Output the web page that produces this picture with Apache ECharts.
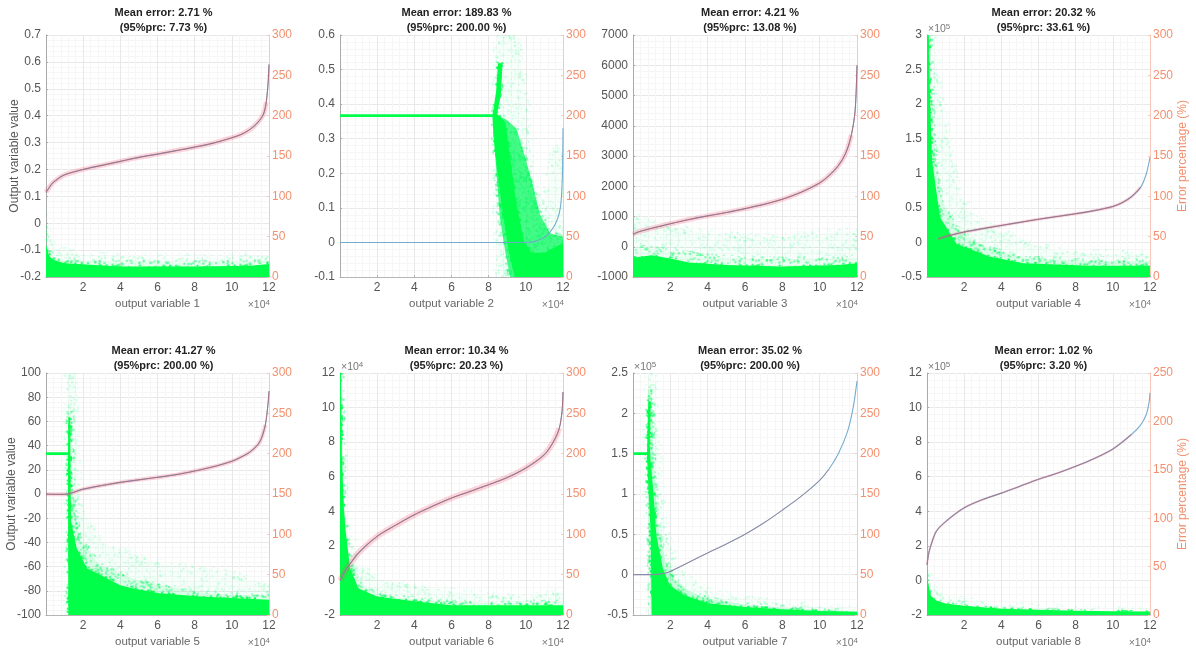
<!DOCTYPE html>
<html><head><meta charset="utf-8">
<style>html,body{margin:0;padding:0;background:#fff}#c{width:1196px;height:653px;filter:blur(0.35px)}</style>
<script src="https://cdn.jsdelivr.net/npm/echarts@6/dist/echarts.min.js"></script>
</head><body><div id="c"></div>
<script>
// Sorted true output value per variable: [x (×10^4 samples), value in left-axis units]
const curve1=[[0,0.115],[0.15,0.13],[0.3,0.145],[0.5,0.158],[1,0.18],[2,0.2],[3,0.215],[4,0.23],[5,0.245],[6,0.257],[7,0.27],[8,0.283],[9,0.298],[10,0.318],[10.5,0.33],[11,0.35],[11.4,0.375],[11.7,0.405],[11.85,0.45],[11.95,0.52],[12,0.59]];
const curve2=[[0,0],[5,0],[9,0],[10,0],[10.5,0.003],[11,0.015],[11.3,0.03],[11.6,0.055],[11.8,0.085],[11.9,0.12],[11.97,0.2],[12,0.33]];
const curve3=[[0,400],[0.2,470],[0.5,530],[1,610],[2,760],[3,900],[4,1020],[5,1130],[6,1260],[7,1400],[8,1570],[9,1800],[10,2110],[10.5,2350],[11,2680],[11.4,3100],[11.7,3700],[11.9,4500],[12,6000]];
const curve4=[[0.6,0.05],[1,0.085],[2,0.15],[3,0.2],[4,0.246],[5,0.29],[6,0.335],[7,0.375],[8,0.415],[9,0.46],[10,0.52],[10.5,0.575],[11,0.66],[11.5,0.8],[11.8,0.99],[12,1.23]];
const curve5=[[0,0],[0.5,-0.3],[1,-0.3],[1.3,0.5],[1.6,2],[2,4],[3,7],[4,9.6],[5,11.7],[6,13.8],[7,16],[8,19],[9,22.5],[10,27],[10.5,30.5],[11,35],[11.5,43],[11.8,57],[11.95,75],[12,85]];
const curve6=[[0,0],[0.25,0.5],[0.5,0.9],[1,1.6],[2,2.55],[3,3.2],[4,3.8],[5,4.3],[6,4.77],[7,5.15],[8,5.54],[9,5.95],[10,6.5],[11,7.28],[11.5,8.05],[11.8,8.8],[11.95,9.8],[12,10.9]];
const curve7=[[0,0],[1,0],[1.5,0.01],[1.9,0.03],[3,0.155],[4,0.27],[5,0.38],[6,0.5],[7,0.64],[8,0.8],[9,0.97],[10,1.17],[10.5,1.31],[11,1.5],[11.5,1.78],[11.8,2.08],[12,2.4]];
const curve8=[[0,0.9],[0.08,1.5],[0.2,2],[0.5,2.84],[1,3.4],[2,4.2],[3,4.68],[4,5.05],[5,5.45],[6,5.85],[7,6.2],[8,6.6],[9,7.05],[10,7.6],[11,8.44],[11.5,9],[11.8,9.6],[11.95,10.3],[12,10.85]];

// Error-percentage cloud outlines: [x, % on right axis]
const faint1=[[0,0],[0,70],[0.2,52],[0.5,36],[1,32],[2,27],[4,26],[6,24],[8,24],[10,25],[11,28],[12,26],[12,0]];
const mid1=[[0,0],[0,50],[0.2,30],[0.5,24],[1,21],[4,18],[8,18],[11,19],[12,20],[12,0]];
const dense1=[[0,0],[0,40],[0.15,28],[0.3,22],[1,17],[4,13],[8,13],[11,14],[12,16],[12,0]];
const faint2=[[8.5,0],[8.3,170],[8.45,300],[9.5,300],[10,230],[10.2,170],[10.5,115],[11,95],[11.3,130],[11.5,160],[12,160],[12,0]];
const mid2=[[9.15,0],[8.9,30],[8.6,74],[8.4,136],[8.25,178],[8.5,200],[8.9,196],[9.5,184],[10,145],[10.4,112],[10.75,78],[11.3,54],[12,50],[12,0]];
const dense2=[[9.4,0],[9.1,30],[8.75,80],[8.45,136],[8.25,178],[8.2,200],[8.4,230],[8.5,265],[8.75,265],[8.65,225],[8.45,202],[8.9,192],[9.2,140],[9.5,90],[9.9,45],[10.3,30],[11,30],[12,42],[12,0]];
const flat2=[[0,200],[8.4,200]];
const faint3=[[0,0],[0,75],[2,62],[4,54],[6,50],[8,50],[10,54],[12,58],[12,0]];
const mid3=[[0,0],[0,38],[2,33],[4,26],[6,23],[8,22],[10,23],[12,24],[12,0]];
const dense3=[[0,0],[0,24],[1,27],[2,23],[3,18],[5,15],[8,13],[11,15],[12,17],[12,0]];
const faint4=[[0,0],[0,300],[0.4,300],[0.7,225],[1.1,178],[1.6,112],[2.5,74],[3.4,62],[5.2,45],[7,33],[8.8,29],[10.6,29],[12,29],[12,0]];
const mid4=[[0,0],[0,300],[0.2,300],[0.35,170],[0.8,95],[1.6,62],[2.5,45],[3.4,35],[5.2,24],[8.8,20],[12,20],[12,0]];
const dense4=[[0,0],[0,300],[0.1,300],[0.15,230],[0.27,145],[0.7,74],[1.6,41],[3.4,25],[5.2,17],[8.8,14],[12,14],[12,0]];
const faint5=[[1.15,0],[1.15,300],[1.5,300],[1.6,230],[1.8,140],[2.9,91],[4.7,74],[6.5,62],[8.3,58],[10,50],[12,39],[12,0]];
const mid5=[[1.2,0],[1.2,250],[1.35,250],[1.45,150],[1.8,95],[2.9,62],[4.7,45],[6.5,36],[8.3,28],[10,25],[12,24],[12,0]];
const dense5=[[1.2,0],[1.18,200],[1.2,245],[1.3,245],[1.32,170],[1.35,115],[1.65,83],[2.2,58],[2.9,50],[4,37],[4.7,33],[6.1,27],[8.3,23],[10,21],[12,19],[12,0]];
const flat5=[[0,200],[1.2,200]];
const faint6=[[0,0],[0,300],[0.14,300],[0.25,155],[0.36,103],[0.7,91],[1,62],[2,45],[4,37],[6,29],[8,25],[10,21],[12,29],[12,0]];
const mid6=[[0,0],[0,300],[0.1,300],[0.2,150],[0.4,85],[0.8,50],[1.5,30],[3,22],[6,16],[9,15],[12,16],[12,0]];
const dense6=[[0,0],[0,300],[0.05,300],[0.1,200],[0.2,135],[0.3,105],[0.54,58],[1,33],[2,23],[4,17],[6,12],[8,12],[10,12],[12,12],[12,0]];
const faint7=[[0.9,0],[0.7,200],[0.8,300],[1.1,300],[1.3,220],[1.5,150],[1.8,100],[2.3,65],[3,45],[4,30],[6,20],[8,14],[10,10],[12,7],[12,0]];
const mid7=[[0.95,0],[0.75,200],[0.8,280],[1,280],[1.1,190],[1.35,110],[1.7,70],[2.2,45],[3,30],[4,20],[6,13],[8,9],[10,6],[12,5],[12,0]];
const dense7=[[1,0],[0.95,100],[0.8,170],[0.75,200],[0.78,225],[0.82,265],[0.95,265],[0.9,210],[0.95,190],[1.1,150],[1.25,99],[1.6,58],[1.97,37],[2.7,25],[4,14.5],[6,10],[8,7],[10,5],[12,4],[12,0]];
const flat7=[[0,200],[0.76,200]];
const faint8=[[0,0],[0,50],[0.3,28],[1,17],[2,15],[3,13],[4,10],[6,8],[8,6],[10,5],[12,4.5],[12,0]];
const dense8=[[0,0],[0,35],[0.05,35],[0.2,20],[0.5,15],[1,12],[2,9.5],[4,6.5],[6,5.5],[8,4.5],[10,4],[12,3.5],[12,0]];

const means=['2.71','189.83','4.21','20.32','41.27','10.34','35.02','1.02'];
const prcs=['7.73','200.00','13.08','33.61','200.00','20.23','200.00','3.20'];
const leftMin=[-0.2,-0.1,-1000,-0.5,-100,-2,-0.5,-2];
const leftMax=[0.7,0.6,7000,3,100,12,2.5,12];
const leftStep=[0.1,0.1,1000,0.5,20,2,0.5,2];
const rightMax=[300,300,300,300,300,300,300,250];
const rightStep=[50,50,50,50,50,50,50,50];
const yExp=['','','','5','','4','5','5'];
const curves=[curve1,curve2,curve3,curve4,curve5,curve6,curve7,curve8];
const faints=[faint1,faint2,faint3,faint4,faint5,faint6,faint7,faint8];
const mids=[mid1,mid2,mid3,mid4,mid5,mid6,mid7,[]];
const denses=[dense1,dense2,dense3,dense4,dense5,dense6,dense7,dense8];
const flats=[[],flat2,[],[],flat5,[],flat7,[]];
const haloW=[5,0,5,3,4,6,0,2];
const haloUntil=[11.9,0,11.8,11.6,11.8,11.9,0,11.4];
const redUntil=[12,0,12,11.7,12,12,10.5,11.4];
const redOp=[0.85,0,0.85,0.8,0.8,0.85,0.5,0.65];
const midWash=[0.08,0.72,0.06,0.12,0.12,0.1,0.2,0];

const lefts=[46,340,633,927], rights=[269,563,857,1150];
const tops=[35,373], bottoms=[277,615];
const RED='#f2906f', TXT='#555';
const grid=[],xAxis=[],yAxis=[],series=[],title=[],graphic=[];

// soft speckle textures standing in for the mass of tiny translucent markers
function speckle(count,size,alpha,rgb){
  const s=128,c=document.createElement('canvas');c.width=c.height=s;
  const g=c.getContext('2d');g.filter='blur(0.6px)';g.fillStyle='rgba('+rgb+','+alpha+')';
  let h=0x9E3779B9;
  const next=()=>{h=(h+0x6D2B79F5)|0;let t=Math.imul(h^(h>>>15),1|h);t=(t+Math.imul(t^(t>>>7),61|t))^t;return ((t^(t>>>14))>>>0)/4294967296;};
  for(let k=0;k<count;k++){
    const x=next()*s,y=next()*s;
    g.beginPath();g.arc(x,y,size,0,6.3);g.fill();
  }
  return {image:c,repeat:'repeat'};
}
const faintTile=speckle(900,1.2,0.09,'0,255,120');
const midTile=speckle(1400,1.2,0.25,'0,250,100');
const edgeTile=speckle(1300,1.2,0.6,'0,255,72');

function poly(pts,style,idx){
  series.push({type:'custom',coordinateSystem:'cartesian2d',xAxisIndex:idx,yAxisIndex:idx*2+1,clip:true,silent:true,z:2,
    data:pts,renderItem(p,api){
      if(p.dataIndex!==0) return null;
      return {type:'polygon',shape:{points:pts.map(q=>api.coord(q))},style};
    }});
}
const font='Liberation Sans';
for(let i=0;i<8;i++){
  const col=i%4,row=i<4?0:1,L=lefts[col],R=rights[col],T=tops[row],B=bottoms[row];
  grid.push({left:L,top:T,width:R-L,height:B-T,show:false});
  xAxis.push({gridIndex:i,type:'value',min:0,max:12,interval:2,
    name:'output variable '+(i+1),nameLocation:'middle',nameGap:21,nameTextStyle:{color:'#666',fontSize:11.5,fontFamily:font},
    axisLine:{show:true,onZero:false,lineStyle:{color:'#b5b5b5'}},axisTick:{show:true,inside:true,length:2,lineStyle:{color:'#b5b5b5'}},
    axisLabel:{color:TXT,fontSize:12,margin:5,fontFamily:font,formatter:v=>v===0?'':String(v)},
    splitLine:{show:true,lineStyle:{color:'#e8e8e8',width:1}},
    minorTick:{show:false,splitNumber:5},minorSplitLine:{show:true,lineStyle:{color:'#f6f6f6',width:1}}});
  yAxis.push({gridIndex:i,type:'value',min:leftMin[i],max:leftMax[i],interval:leftStep[i],
    name:col===0?'Output variable value':'',nameLocation:'middle',nameGap:row===0?25:28,nameMoveOverlap:false,nameTextStyle:{color:'#555',fontSize:12,fontFamily:font},
    axisLine:{show:true,onZero:false,lineStyle:{color:'#aaa'}},axisTick:{show:true,inside:true,length:2,lineStyle:{color:'#aaa'}},
    axisLabel:{color:TXT,fontSize:12,margin:5,fontFamily:font,formatter:v=>String(+v.toFixed(1))},
    splitLine:{show:true,lineStyle:{color:'#e8e8e8',width:1}},
    minorTick:{show:false,splitNumber:5},minorSplitLine:{show:true,lineStyle:{color:'#f6f6f6',width:1}}});
  yAxis.push({gridIndex:i,type:'value',position:'right',min:0,max:rightMax[i],interval:rightStep[i],
    name:col===3?'Error percentage (%)':'',nameLocation:'middle',nameGap:27,nameMoveOverlap:false,nameTextStyle:{color:RED,fontSize:12,fontFamily:font},
    axisLine:{show:true,onZero:false,lineStyle:{color:'#f8c9b8'}},axisTick:{show:true,inside:true,length:2,lineStyle:{color:'#f8c9b8'}},
    axisLabel:{color:RED,fontSize:12,margin:3,fontFamily:font},splitLine:{show:false}});
  title.push({text:'Mean error: '+means[i]+' %\n(95%prc: '+prcs[i]+' %)',left:(L+R)/2+(col===0?1:0),top:row===0?0:338,textAlign:'center',
    textStyle:{fontSize:11,fontWeight:'bold',color:'#222',lineHeight:15,fontFamily:font}});
  const rich={a:{fontSize:10.5,fill:'#777',fontFamily:font},b:{fontSize:8,fill:'#777',padding:[0,0,5,0],fontFamily:font}};
  graphic.push({type:'text',x:R+1,y:B+28,style:{text:'{a|×10}{b|4}',align:'right',verticalAlign:'middle',rich}});
  if(yExp[i]) graphic.push({type:'text',x:L+1,y:T-6,style:{text:'{a|×10}{b|'+yExp[i]+'}',align:'left',verticalAlign:'middle',rich}});

  poly(faints[i],{fill:'rgba(0,255,120,0.03)'},i);
  poly(faints[i],{fill:faintTile,stroke:faintTile,lineWidth:8},i);
  if(mids[i].length){
    poly(mids[i],{fill:'rgba(0,250,90,'+midWash[i]+')'},i);
    poly(mids[i],{fill:midTile,stroke:midTile,lineWidth:5},i);
  }
  poly(denses[i],{fill:'#00ff48',stroke:edgeTile,lineWidth:3},i);
  if(flats[i].length) series.push({type:'line',xAxisIndex:i,yAxisIndex:i*2+1,data:flats[i],showSymbol:false,silent:true,z:3,lineStyle:{color:'#00ff48',width:2.6}});
  const line={type:'line',xAxisIndex:i,yAxisIndex:i*2,showSymbol:false,silent:true,smooth:0.3};
  const halo=curves[i].filter(q=>q[0]<=haloUntil[i]);
  const red=curves[i].filter(q=>q[0]<=redUntil[i]);
  if(haloW[i]) series.push({...line,data:halo,z:4,lineStyle:{color:'#ff4060',width:haloW[i],opacity:0.22}});
  series.push({...line,data:curves[i],z:5,lineStyle:{color:'#6fa9cc',width:1.1,opacity:0.95}});
  if(red.length) series.push({...line,data:red,z:6,lineStyle:{color:'#b5606f',width:1,opacity:redOp[i]}});
}
const chart=echarts.init(document.getElementById('c'),null,{renderer:'canvas'});
chart.setOption({animation:false,backgroundColor:'#fff',title,grid,xAxis,yAxis,series,graphic});
</script></body></html>
